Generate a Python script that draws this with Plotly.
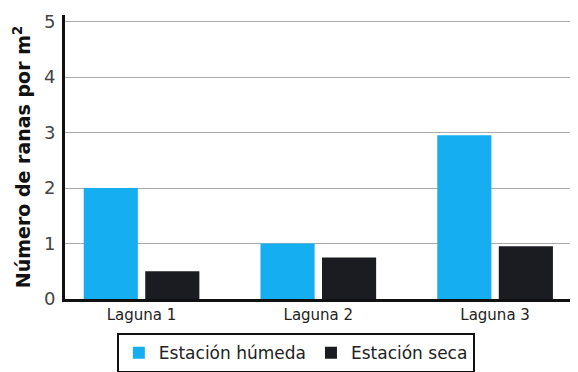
import plotly.graph_objects as go

categories = ["Laguna 1", "Laguna 2", "Laguna 3"]
humeda = [2.0, 1.0, 2.95]
seca = [0.5, 0.75, 0.95]
y_ticks = [0, 1, 2, 3, 4, 5]

FONT = "DejaVu Sans"

fig = go.Figure()
fig.add_trace(go.Bar(x=categories, y=humeda, name="Estación húmeda",
                     marker=dict(color="#15aef0", line=dict(width=0))))
fig.add_trace(go.Bar(x=categories, y=seca, name="Estación seca",
                     marker=dict(color="#1b1c22", line=dict(width=0))))

fig.update_layout(
    width=578, height=372,
    margin=dict(l=57, r=8, t=7, b=81),
    paper_bgcolor="white", plot_bgcolor="white",
    barmode="group", bargap=0.304, bargroupgap=0.12,
    font=dict(family=FONT, color="#222"),
    showlegend=True,
    legend=dict(orientation="h", x=0.45, xanchor="center", y=-0.12, yanchor="top",
                bordercolor="#111", borderwidth=2, bgcolor="white",
                font=dict(size=17, color="#222"), itemwidth=30,
                traceorder="normal"),
    xaxis=dict(range=[-0.433, 2.469], showline=True, linecolor="#111", linewidth=3,
               showgrid=False, ticks="", tickfont=dict(size=15, color="#222"),
               automargin=False, fixedrange=True),
    yaxis=dict(range=[0, 5.12], tickvals=y_ticks, showline=True, linecolor="#111",
               linewidth=3, showgrid=True, gridcolor="#aaaaaa", gridwidth=1,
               ticks="", tickfont=dict(size=18, color="#444"), ticklabelstandoff=3,
               automargin=False,
               title=dict(text="Número de ranas por m<sup>2</sup>",
                          font=dict(size=19, color="#111", weight="bold"), standoff=9),
               zeroline=False),
)

fig.write_html("out.html")
